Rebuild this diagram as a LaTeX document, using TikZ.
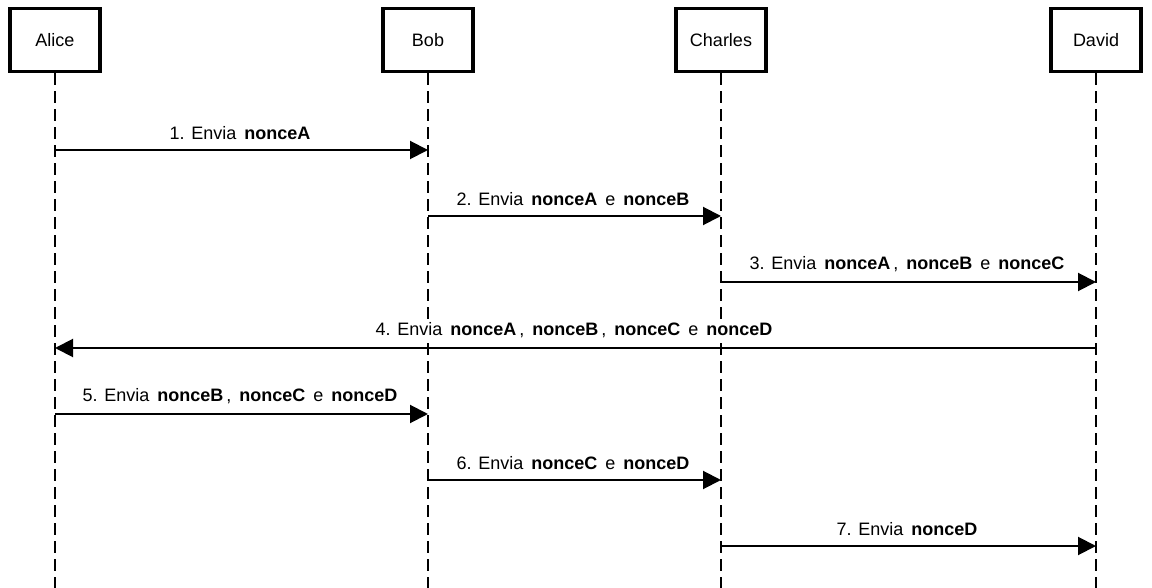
\documentclass[tikz,border=0pt]{standalone}
\usepackage{fontspec}
\setmainfont{Liberation Sans}
\usetikzlibrary{arrows.meta}

\newcommand{\nonce}[1]{\,\textbf{#1}\,}

\begin{document}
\begin{tikzpicture}[
    x=0.5pt, y=-0.5pt,
    font=\fontsize{9}{11}\selectfont,
    actor/.style={rectangle, draw, line width=1.7pt, minimum width=45pt, minimum height=31.5pt},
    lifeline/.style={line width=1pt, dash pattern=on 6pt off 3pt},
    msg/.style={-{Triangle[length=9pt, width=9pt]}, line width=1pt},
    lbl/.style={above=3.5pt, inner sep=1pt, fill=white}
]
    \useasboundingbox (0,0) rectangle (1152,588);

    % participants
    \node[actor] (alice)   at (55,40)   {Alice};
    \node[actor] (bob)     at (428,40)  {Bob};
    \node[actor] (charles) at (721,40)  {Charles};
    \node[actor] (david)   at (1096,40) {David};

    % lifelines
    \coordinate (aliceend)   at (55,588);
    \coordinate (bobend)     at (428,588);
    \coordinate (charlesend) at (721,588);
    \coordinate (davidend)   at (1096,588);

    \draw[lifeline] (alice.south) -- (aliceend);
    \draw[lifeline] (bob.south) -- (bobend);
    \draw[lifeline] (charles.south) -- (charlesend);
    \draw[lifeline] (david.south) -- (davidend);

    % message ends
    \coordinate (m1a) at (55,150);   \coordinate (m1b) at (428,150);
    \coordinate (m2a) at (428,216);  \coordinate (m2b) at (721,216);
    \coordinate (m3a) at (721,282);  \coordinate (m3b) at (1096,282);
    \coordinate (m4a) at (1096,348); \coordinate (m4b) at (55,348);
    \coordinate (m5a) at (55,414);   \coordinate (m5b) at (428,414);
    \coordinate (m6a) at (428,480);  \coordinate (m6b) at (721,480);
    \coordinate (m7a) at (721,546);  \coordinate (m7b) at (1096,546);

    \draw[msg] (m1a) -- node[lbl] {1. Envia \nonce{nonceA}} (m1b);
    \draw[msg] (m2a) -- node[lbl] {2. Envia \nonce{nonceA} e \nonce{nonceB}} (m2b);
    \draw[msg] (m3a) -- node[lbl] {3. Envia \nonce{nonceA}, \nonce{nonceB} e \nonce{nonceC}} (m3b);
    \draw[msg] (m4a) -- node[lbl] {4. Envia \nonce{nonceA}, \nonce{nonceB}, \nonce{nonceC} e \nonce{nonceD}} (m4b);
    \draw[msg] (m5a) -- node[lbl] {5. Envia \nonce{nonceB}, \nonce{nonceC} e \nonce{nonceD}} (m5b);
    \draw[msg] (m6a) -- node[lbl] {6. Envia \nonce{nonceC} e \nonce{nonceD}} (m6b);
    \draw[msg] (m7a) -- node[lbl] {7. Envia \nonce{nonceD}} (m7b);
\end{tikzpicture}
\end{document}
